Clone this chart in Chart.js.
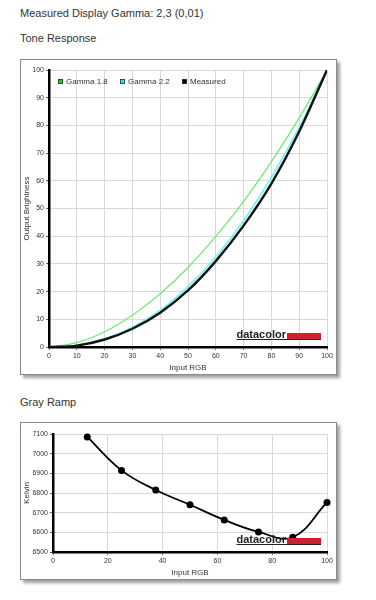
<!DOCTYPE html>
<html>
<head>
<meta charset="utf-8">
<script src="https://cdn.jsdelivr.net/npm/chart.js@4/dist/chart.umd.min.js"></script>
<style>
  body{margin:0;background:#fff;font-family:"Liberation Sans",Arial,sans-serif;color:#333;width:376px;height:600px;overflow:hidden;position:relative}
  .lbl{position:absolute;left:20px;font-size:11px;white-space:nowrap}
  .box{position:absolute;left:20px;border:1px solid #8a8a8a;box-shadow:3px 3px 3px #a0a0a0;background:#fff}
  canvas{display:block}
</style>
</head>
<body>
<div class="lbl" style="top:7px">Measured Display Gamma: 2,3 (0,01)</div>
<div class="lbl" style="top:32px">Tone Response</div>
<div class="box" style="top:59px;width:315px;height:314px"><canvas id="tone" width="315" height="314"></canvas></div>
<div class="lbl" style="top:396px">Gray Ramp</div>
<div class="box" style="top:422px;width:315px;height:156px"><canvas id="ramp" width="315" height="156"></canvas></div>
<script>
// tone response
const toneX = [0, 10, 20, 30, 40, 50, 60, 70, 80, 90, 100];
const gamma18 = [0, 1.6, 5.5, 11.5, 19.2, 28.7, 39.9, 52.6, 66.9, 82.7, 100];
const gamma22 = [0, 0.6, 2.9, 7.1, 13.3, 21.8, 32.5, 45.6, 61.2, 79.3, 100];
const measured = [0, 0.5, 2.7, 6.6, 12.4, 20.4, 31.0, 43.8, 59.0, 77.8, 100];
const toneNames = ['Gamma 1.8', 'Gamma 2.2', 'Measured'];

// gray ramp
const rampX = [12.5, 25, 37.5, 50, 62.5, 75, 87.5, 100];
const kelvin = [7085, 6915, 6815, 6740, 6663, 6602, 6575, 6752];

const txt = '#333';
const fam = '"Liberation Sans", Arial, sans-serif';
const tickFont = {family: fam, size: 7};
const pts = (xs, ys) => xs.map((x, i) => ({x: x, y: ys[i]}));

const logo = {
  id: 'logo',
  afterDatasetsDraw(chart) {
    const c = chart.ctx, a = chart.chartArea;
    const right = a.right - 6, base = a.bottom - 8;
    c.save();
    c.fillStyle = '#d21f2f';
    c.fillRect(right - 34, base - 6, 34, 6);
    c.font = 'bold 11px ' + fam;
    c.fillStyle = '#222';
    c.textAlign = 'right';
    c.textBaseline = 'alphabetic';
    c.fillText('datacolor', right - 35, base - 1);
    const w = c.measureText('datacolor').width;
    c.fillRect(right - 35 - w, base, w + 35, 1);
    c.restore();
  }
};

// legend sits inside the plot, in one row at the top left
const innerLegend = {
  id: 'innerLegend',
  afterDraw(chart) {
    const c = chart.ctx, a = chart.chartArea;
    c.save();
    c.font = '8px ' + fam;
    c.textBaseline = 'middle';
    chart.data.datasets.forEach((d, i) => {
      const x = a.left + 9 + i * 62, y = a.top + 9;
      c.fillStyle = d.backgroundColor;
      c.fillRect(x, y, 5, 5);
      c.strokeStyle = '#333';
      c.lineWidth = 0.8;
      c.strokeRect(x + 0.4, y + 0.4, 4.2, 4.2);
      c.fillStyle = txt;
      c.fillText(d.label, x + 8, y + 3);
    });
    c.restore();
  }
};

function axis(min, max, step, title, fit) {
  return {
    type: 'linear', min: min, max: max,
    ticks: {stepSize: step, color: txt, font: tickFont, padding: 2, callback: v => String(v)},
    grid: {color: '#d8d8d8', lineWidth: 1, tickLength: 3, tickColor: '#666'},
    border: {color: '#000', width: 2.5},
    title: {display: true, text: title, color: txt, font: {family: fam, size: 8}, padding: {top: 1, bottom: 1}},
    afterFit: fit
  };
}

new Chart(document.getElementById('tone'), {
  type: 'line',
  data: {datasets: [
    {label: toneNames[0], data: pts(toneX, gamma18), borderColor: '#70ea70', backgroundColor: '#22cc22', borderWidth: 1.2, order: 2},
    {label: toneNames[1], data: pts(toneX, gamma22), borderColor: '#70f4f4', backgroundColor: '#33e0e0', borderWidth: 1.6, order: 1},
    {label: toneNames[2], data: pts(toneX, measured), borderColor: '#111', backgroundColor: '#000', borderWidth: 2.4, order: 0}
  ]},
  options: {
    responsive: false, animation: false, devicePixelRatio: 1,
    elements: {point: {radius: 0}, line: {cubicInterpolationMode: 'monotone'}},
    layout: {padding: {left: 0, top: 10, right: 9, bottom: 0}},
    scales: {
      x: axis(0, 100, 10, 'Input RGB', s => { s.height = 27; }),
      y: axis(0, 100, 10, 'Output Brightness', s => { s.width = 28; })
    },
    plugins: {legend: {display: false}, tooltip: {enabled: false}}
  },
  plugins: [logo, innerLegend]
});

new Chart(document.getElementById('ramp'), {
  type: 'line',
  data: {datasets: [
    {label: 'Kelvin', data: pts(rampX, kelvin), borderColor: '#000', backgroundColor: '#000', borderWidth: 1.8, tension: 0.4,
     pointRadius: 3.5, pointBackgroundColor: '#000', pointBorderWidth: 0, clip: false}
  ]},
  options: {
    responsive: false, animation: false, devicePixelRatio: 1,
    layout: {padding: {left: 0, top: 11, right: 9, bottom: 0}},
    scales: {
      x: axis(0, 100, 20, 'Input RGB', s => { s.height = 27; }),
      y: axis(6500, 7100, 100, 'Kelvin', s => { s.width = 32; })
    },
    plugins: {legend: {display: false}, tooltip: {enabled: false}}
  },
  plugins: [logo]
});
</script>
</body>
</html>
